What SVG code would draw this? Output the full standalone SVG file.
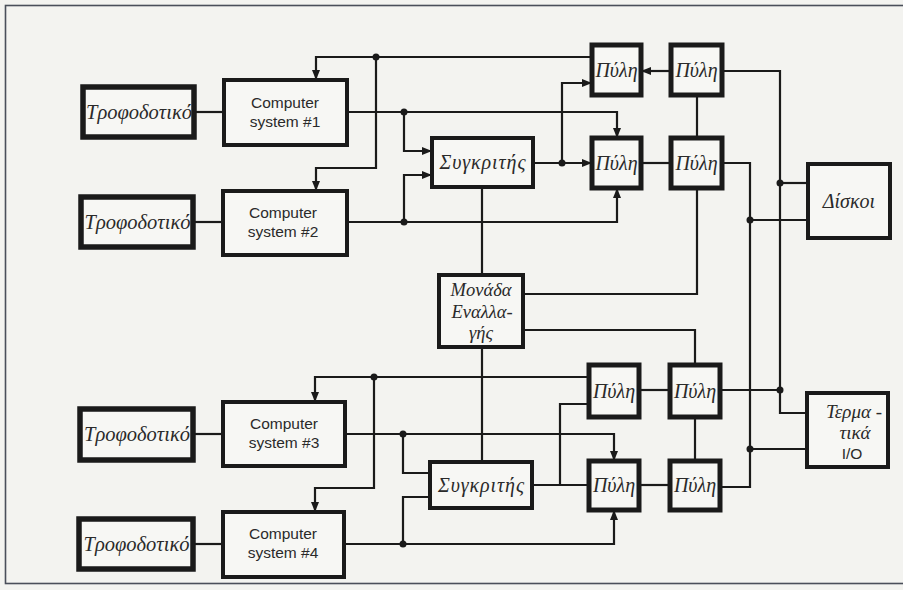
<svg xmlns="http://www.w3.org/2000/svg" width="903" height="590" viewBox="0 0 903 590">
<defs>
<marker id="ar" viewBox="0 0 10 8" refX="10" refY="4" markerWidth="10" markerHeight="8" markerUnits="userSpaceOnUse" orient="auto">
<path d="M0,0 L10,4 L0,8 Z" fill="#1a1a1a"/>
</marker>
<style>
.bg{fill:#f3f3f0}
.frame{fill:none;stroke:#4a4f5a;stroke-width:1.6}
.box{fill:#f7f7f4;stroke:#1a1a1a;stroke-width:4}
.psu{fill:#f7f7f4;stroke:#1a1a1a;stroke-width:5.5}
.gate{fill:#f7f7f4;stroke:#1a1a1a;stroke-width:5}
.ln{fill:none;stroke:#1a1a1a;stroke-width:2.2}
.arr{marker-end:url(#ar)}
.dot{fill:#1a1a1a}
.gr{font-family:"Liberation Serif","DejaVu Serif",serif;font-style:italic;fill:#2a2a2a;text-anchor:middle}
.sans{font-family:"Liberation Sans",Arial,sans-serif;fill:#2a2a2a;text-anchor:middle;font-size:15.5px}
.psut{font-size:20.5px}
.gt{font-size:20px}
</style>
</defs>
<rect class="bg" x="0" y="0" width="903" height="590"/>
<rect class="frame" x="5.5" y="5.5" width="905" height="578"/>

<g id="connectors">
<path class="ln" d="M194,112 H224"/>
<path class="ln" d="M193,222 H223"/>
<path class="ln" d="M193,434 H223"/>
<path class="ln" d="M193,544 H223"/>
<path class="ln arr" d="M592,57 H316 V80"/>
<path class="ln arr" d="M376,57 V168 H316 V191"/>
<path class="ln arr" d="M347,112 H617 V138"/>
<path class="ln arr" d="M404,112 V151 H432"/>
<path class="ln arr" d="M404,222 V175 H432"/>
<path class="ln arr" d="M347,222 H617 V188"/>
<path class="ln arr" d="M533,163 H592"/>
<path class="ln arr" d="M562,163 V83 H592"/>
<path class="ln arr" d="M671,71 H641"/>
<path class="ln" d="M641,163 H671"/>
<path class="ln" d="M697,95 V138"/>
<path class="ln" d="M697,188 V294 H523"/>
<path class="ln" d="M722,71 H780 V413 H807"/>
<path class="ln" d="M722,163 H750 V487 H720"/>
<path class="ln" d="M780,183 H808"/>
<path class="ln" d="M750,220 H808"/>
<path class="ln" d="M482,187 V275"/>
<path class="ln" d="M482,347 V462"/>
<path class="ln" d="M523,330 H695 V365"/>
<path class="ln arr" d="M589,377 H315 V402"/>
<path class="ln arr" d="M374,377 V488 H315 V512"/>
<path class="ln arr" d="M345,434 H614 V461"/>
<path class="ln" d="M403,434 V473 H430"/>
<path class="ln" d="M403,544 V497 H430"/>
<path class="ln arr" d="M344,544 H614 V510"/>
<path class="ln" d="M532,485 H589"/>
<path class="ln" d="M560,485 V404 H589"/>
<path class="ln" d="M639,390 H670"/>
<path class="ln" d="M720,390 H780"/>
<path class="ln" d="M695,417 V461"/>
<path class="ln" d="M639,485 H670"/>
<path class="ln" d="M750,449 H807"/>
<circle class="dot" cx="376" cy="57" r="3.5"/>
<circle class="dot" cx="404" cy="112" r="3.5"/>
<circle class="dot" cx="404" cy="222" r="3.5"/>
<circle class="dot" cx="562" cy="163" r="3.5"/>
<circle class="dot" cx="780" cy="183" r="3.5"/>
<circle class="dot" cx="750" cy="220" r="3.5"/>
<circle class="dot" cx="374" cy="377" r="3.5"/>
<circle class="dot" cx="403" cy="434" r="3.5"/>
<circle class="dot" cx="403" cy="544" r="3.5"/>
<circle class="dot" cx="780" cy="390" r="3.5"/>
<circle class="dot" cx="750" cy="449" r="3.5"/>
</g>

<g id="psu1"><rect class="psu" x="83" y="87" width="111" height="50"/><text class="gr psut" x="139" y="119">Τροφοδοτικό</text></g>
<g id="psu2"><rect class="psu" x="81" y="197" width="112" height="50"/><text class="gr psut" x="137.5" y="229">Τροφοδοτικό</text></g>
<g id="psu3"><rect class="psu" x="80" y="409" width="113" height="51"/><text class="gr psut" x="137" y="441">Τροφοδοτικό</text></g>
<g id="psu4"><rect class="psu" x="79" y="519" width="114" height="50"/><text class="gr psut" x="136.5" y="551">Τροφοδοτικό</text></g>

<g id="cs1"><rect class="box" x="224" y="80" width="123" height="65"/><text class="sans" x="285" y="108">Computer</text><text class="sans" x="285" y="127">system #1</text></g>
<g id="cs2"><rect class="box" x="223" y="191" width="124" height="64"/><text class="sans" x="283" y="218">Computer</text><text class="sans" x="283" y="237">system #2</text></g>
<g id="cs3"><rect class="box" x="223" y="402" width="122" height="64"/><text class="sans" x="284" y="429">Computer</text><text class="sans" x="284" y="448">system #3</text></g>
<g id="cs4"><rect class="box" x="223" y="512" width="121" height="65"/><text class="sans" x="283" y="539">Computer</text><text class="sans" x="283" y="558">system #4</text></g>

<g id="cmp1"><rect class="box" x="432" y="138" width="101" height="49"/><text class="gr" x="482.5" y="169" font-size="20" textLength="86" lengthAdjust="spacing">Συγκριτής</text></g>
<g id="cmp2"><rect class="box" x="430" y="462" width="102" height="46"/><text class="gr" x="481" y="492" font-size="20" textLength="86" lengthAdjust="spacing">Συγκριτής</text></g>
<g id="mux"><rect class="box" x="439" y="275" width="84" height="72"/><text class="gr" x="481" y="296" font-size="18.5">Μονάδα</text><text class="gr" x="482" y="318" font-size="18.5">Εναλλα-</text><text class="gr" x="481" y="339" font-size="18.5">γής</text></g>

<g id="gate1"><rect class="gate" x="592" y="45" width="49" height="50"/><text class="gr gt" x="616.5" y="77">Πύλη</text></g>
<g id="gate2"><rect class="gate" x="671" y="45" width="51" height="50"/><text class="gr gt" x="696.5" y="77">Πύλη</text></g>
<g id="gate3"><rect class="gate" x="592" y="138" width="49" height="50"/><text class="gr gt" x="616.5" y="170">Πύλη</text></g>
<g id="gate4"><rect class="gate" x="671" y="138" width="51" height="50"/><text class="gr gt" x="696.5" y="170">Πύλη</text></g>
<g id="gate5"><rect class="gate" x="589" y="365" width="50" height="52"/><text class="gr gt" x="614" y="398">Πύλη</text></g>
<g id="gate6"><rect class="gate" x="670" y="365" width="50" height="52"/><text class="gr gt" x="695" y="398">Πύλη</text></g>
<g id="gate7"><rect class="gate" x="589" y="461" width="50" height="49"/><text class="gr gt" x="614" y="492">Πύλη</text></g>
<g id="gate8"><rect class="gate" x="670" y="461" width="50" height="49"/><text class="gr gt" x="695" y="492">Πύλη</text></g>

<g id="disks"><rect class="box" x="808" y="164" width="82" height="74"/><text class="gr" x="849" y="208" font-size="20">Δίσκοι</text></g>
<g id="term"><rect class="box" x="807" y="393" width="81" height="74"/><text class="gr" x="854" y="418" font-size="19">Τερμα -</text><text class="gr" x="855" y="439" font-size="19">τικά</text><text class="sans" x="852" y="459">I/O</text></g>
</svg>
